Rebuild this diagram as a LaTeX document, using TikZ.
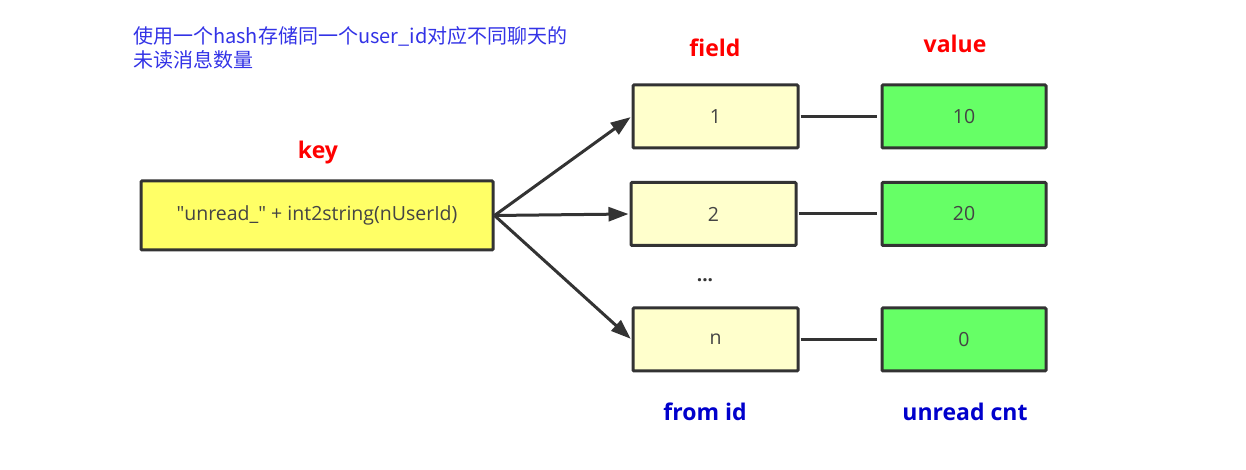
\documentclass[tikz,border=0pt]{standalone}
\usepackage{fontspec}
\setmainfont{Open Sans}
\newfontfamily\cjk{Noto Sans CJK SC}
\usetikzlibrary{arrows.meta, positioning}
\definecolor{lineC}{RGB}{51,51,51}
\definecolor{txtC}{RGB}{68,68,68}
\definecolor{keyY}{RGB}{255,255,102}
\definecolor{fieldY}{RGB}{255,255,204}
\definecolor{valG}{RGB}{102,255,102}
\definecolor{noteB}{RGB}{51,51,230}
\definecolor{capB}{RGB}{0,0,204}
\tikzset{
    boxN/.style={draw=lineC, line width=3pt, rounded corners=1pt, text=txtC,
        font=\fontsize{19.5}{22}\selectfont, inner sep=0pt},
    keyBox/.style={boxN, fill=keyY, minimum width=352, minimum height=69},
    fieldBox/.style={boxN, fill=fieldY, minimum width=165, minimum height=63},
    valBox/.style={boxN, fill=valG, minimum width=164, minimum height=63},
    redL/.style={text=red, font=\fontsize{23}{26}\selectfont\bfseries},
    blueL/.style={text=capB, font=\fontsize{23}{26}\selectfont\bfseries},
    bareA/.style={draw=lineC, line width=3pt, -{Triangle[length=20,width=14]}, shorten >=1},
    bareL/.style={draw=lineC, line width=3pt, shorten <=1, shorten >=4}
}

\begin{document}
\begin{tikzpicture}[x=1pt, y=1pt]
    \useasboundingbox (0,0) rectangle (1246,470);
    \def \fx {715.5}
    \def \vx {964}
    % note
    \node[anchor=north west, text=noteB, align=left, inner sep=0pt,
        font=\cjk\fontsize{20}{24}\selectfont] (note) at (133,444)
        {使用一个hash存储同一个user\_id对应不同聊天的\\未读消息数量};
    % key
    \node[keyBox] (key) at (317,254.5) {\textquotedbl unread\_\textquotedbl{} + int2string(nUserId)};
    \node[redL] (keyL) at (318,317) {key};
    % fields and values
    \node[fieldBox] (f1) at (\fx,353.5) {1};
    \node[fieldBox] (f2) at (\fx-2,256) {2};
    \node[fieldBox] (fn) at (\fx,130.5) {n};
    \node[valBox] (v1) at (\vx,353.5) {10};
    \node[valBox] (v2) at (\vx,256) {20};
    \node[valBox] (vn) at (\vx,130.5) {0};
    \node[redL] (fieldL) at (715,422) {field};
    \node[redL] (valL) at (955,426) {value};
    \node[text=lineC, font=\fontsize{19}{22}\selectfont\bfseries] (dots) at (705,190) {...};
    \node[blueL] (fromL) at (705,58) {from id};
    \node[blueL] (cntL) at (965,58) {unread cnt};
    % connectors
    \draw[bareA] (key.east) -- (f1.west);
    \draw[bareA] (key.east) -- (f2.west);
    \draw[bareA] (key.east) -- (fn.west);
    \draw[bareL] (f1) -- (v1);
    \draw[bareL] (f2) -- (v2);
    \draw[bareL] (fn) -- (vn);
\end{tikzpicture}
\end{document}
